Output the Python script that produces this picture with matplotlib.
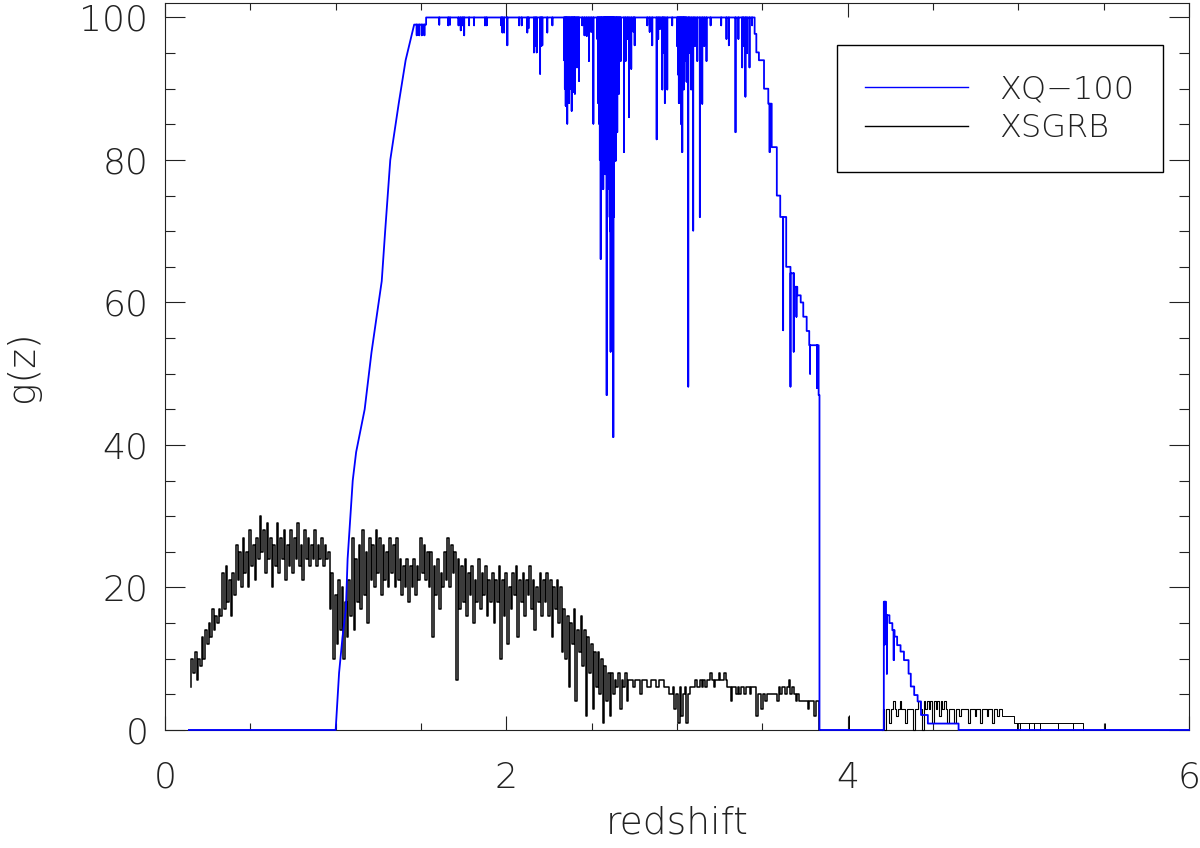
import numpy as np
import matplotlib
matplotlib.use('Agg')
import matplotlib.pyplot as plt
from matplotlib.ticker import MultipleLocator

# ---------------------------------------------------------------
# data
# ---------------------------------------------------------------

# XQ-100: steep rise (plain line), then a staircase with narrow dips
blue_rise_z = [0.14, 1.00, 1.02, 1.04, 1.06, 1.07, 1.10, 1.12, 1.17, 1.21,
               1.27, 1.29, 1.32, 1.37, 1.41, 1.43, 1.46]
blue_rise_g = [0, 0, 8, 13, 17, 24, 35, 39, 45, 53,
               63, 70, 80, 88, 94, 96, 99]

blue_step_z = [1.46, 1.53, 3.455, 3.465, 3.48, 3.51, 3.535, 3.555, 3.585,
               3.605, 3.64, 3.665, 3.685, 3.705, 3.725, 3.74, 3.76, 3.775,
               3.83, 3.835, 4.212, 4.225, 4.245, 4.262, 4.275, 4.29, 4.31,
               4.33, 4.357, 4.37, 4.39, 4.41, 4.43, 4.47, 4.65, 6.0]
blue_step_g = [99, 100, 97.7, 95.1, 94.0, 90.0, 87.9, 81.8, 75.0,
               72.0, 65.0, 64.1, 62.2, 61.0, 60, 58, 56, 54,
               47, 0, 18, 16.1, 15, 14, 13.1, 11.9, 11.0,
               9.8, 7.9, 6.1, 4.9, 4.0, 2.1, 0.9, 0, 0]

# narrow dips of the XQ-100 curve: position and the value they reach
blue_dip_z = [1.475, 1.49, 1.505, 1.52,
              1.607, 1.66, 1.67, 1.72, 1.733, 1.745, 1.753, 1.782, 1.811,
              1.875, 1.885, 1.97, 1.977, 1.987, 2.006, 2.075, 2.09, 2.123,
              2.13, 2.162, 2.17, 2.178, 2.198, 2.205, 2.211, 2.24, 2.27,
              2.338, 2.343, 2.348, 2.352, 2.357, 2.362, 2.367, 2.372, 2.378,
              2.383, 2.388, 2.393, 2.398, 2.402, 2.408, 2.414, 2.420, 2.426,
              2.445, 2.458, 2.471, 2.484, 2.497, 2.510,
              2.533, 2.538, 2.543, 2.548, 2.553, 2.558, 2.562, 2.568, 2.572,
              2.576, 2.580, 2.584, 2.588, 2.592, 2.596, 2.600, 2.603, 2.607,
              2.611, 2.615, 2.618, 2.621, 2.624, 2.627, 2.631, 2.635, 2.641,
              2.645, 2.650, 2.655, 2.660, 2.665, 2.670,
              2.689, 2.699, 2.710, 2.719, 2.732, 2.745, 2.752,
              2.826, 2.84, 2.855, 2.881, 2.89, 2.900, 2.914, 2.92, 2.929,
              2.943, 2.972,
              3.001, 3.006, 3.011, 3.016, 3.021, 3.026, 3.031, 3.036, 3.040,
              3.045, 3.050, 3.056, 3.066, 3.072, 3.083, 3.095, 3.105, 3.119,
              3.134, 3.148, 3.16, 3.173, 3.197,
              3.259, 3.29, 3.304, 3.343, 3.36, 3.382, 3.39, 3.401, 3.41,
              3.425, 3.440,
              3.543, 3.622, 3.665, 3.684, 3.70, 3.78, 3.82,
              4.218, 4.23, 4.27]
blue_dip_g = [97.5, 97.5, 97.5, 97.5,
              99.0, 98.9, 99, 98.9, 98.2, 98.9, 97.5, 98.9, 98.9,
              98.9, 98.9, 98.9, 97.9, 97.9, 96.1, 98.9, 98.9, 97.9,
              98.5, 95.1, 96, 95.1, 92.1, 96, 96.1, 97.9, 98.9,
              94, 90, 87.6, 92, 85.1, 89, 88, 93, 90,
              86.9, 95, 92, 89.5, 89.3, 96, 93, 97, 91.1,
              98.9, 97.5, 97.4, 93.9, 98, 85.1,
              97, 88, 85.1, 80, 66.1, 78, 79.9, 75.9, 82,
              85, 78, 88, 47.0, 72, 87, 76, 83, 70,
              53.1, 80, 74, 74.3, 66, 41.1, 72, 86, 79.9,
              90, 83.9, 93, 89.3, 95, 93.9,
              81.1, 93.9, 97, 86.0, 92.8, 98, 96.1,
              98.9, 98, 96.1, 82.9, 97, 98.4, 89.9, 95, 88,
              89.9, 98.9,
              96, 92, 88, 93, 88, 85, 81.1, 90, 89.9,
              94, 93.9, 91, 48.2, 95, 89.9, 70.1, 96, 93.9,
              72.0, 87.9, 96, 93.9, 98.9,
              98.9, 97, 96.1, 83.9, 97, 93, 96, 88.9, 95,
              93, 98.9,
              81.1, 56.1, 48.2, 53.1, 58, 50, 48,
              12, 7.9, 9.8]

# XSGRB, sampled every 0.01 in redshift from 0.15 to 3.84
black_g = [6, 10, 8, 11, 7, 10, 9, 13, 10, 14,
           12, 15, 13, 17, 14, 16, 15, 17, 16, 22,
           17, 23, 18, 21, 16, 22, 19, 26, 21, 25,
           20, 27, 22, 25, 20, 28, 23, 26, 21, 27,
           24, 30, 25, 28, 22, 29, 24, 27, 20, 26,
           23, 29, 22, 27, 24, 28, 21, 26, 23, 28,
           22, 27, 24, 29, 23, 26, 21, 28, 24, 27,
           23, 26, 24, 28, 23, 26, 24, 27, 23, 26,
           24, 25, 17, 22, 10, 19, 12, 21, 14, 20,
           10, 18, 13, 21, 16, 27, 14, 24, 18, 26,
           17, 28, 19, 25, 15, 27, 21, 26, 20, 28,
           22, 27, 19, 26, 21, 25, 20, 27, 22, 26,
           20, 27, 21, 24, 19, 23, 20, 24, 18, 23,
           20, 24, 19, 23, 21, 27, 22, 26, 21, 25,
           20, 25, 13, 23, 19, 24, 17, 22, 20, 25,
           21, 27, 20, 26, 22, 25, 7, 24, 17, 23,
           18, 24, 16, 22, 19, 23, 15, 21, 18, 24,
           17, 22, 19, 23, 16, 21, 18, 22, 15, 21,
           18, 23, 10, 21, 16, 22, 12, 20, 17, 22,
           19, 23, 13, 21, 18, 22, 16, 21, 19, 23,
           17, 21, 14, 20, 18, 22, 16, 21, 18, 22,
           16, 21, 13, 20, 17, 21, 15, 20, 11, 17,
           10, 16, 6, 15, 12, 17, 4, 14, 11, 16,
           9, 14, 2, 13, 8, 12, 3, 11, 6, 11,
           5, 10, 1, 9, 4, 8, 2, 8, 5, 7,
           6, 8, 3, 7, 6, 8, 4, 7, 7, 7,
           6, 7, 7, 7, 5, 7, 7, 7, 6, 6,
           7, 7, 7, 6, 6, 7, 7, 7, 6, 6,
           6, 5, 5, 6, 3, 5, 1, 6, 2, 5,
           6, 1, 5, 6, 6, 6, 7, 6, 6, 7,
           6, 7, 6, 7, 7, 8, 7, 6, 7, 7,
           8, 7, 7, 8, 7, 6, 6, 4, 6, 6,
           5, 6, 5, 6, 6, 5, 6, 6, 5, 6,
           6, 6, 2, 5, 5, 3, 5, 4, 5, 5,
           5, 5, 5, 5, 4, 6, 5, 6, 6, 5,
           6, 7, 5, 6, 5, 4, 5, 4, 4, 4,
           4, 4, 3, 4, 4, 4, 2, 4, 4, 0]

# XSGRB second patch, every 0.01 from 4.20 to 4.90
black_tail_g = [0, 3, 0, 3, 3, 1, 3, 4, 3, 2, 3,
                4, 3, 3, 1, 3, 3, 3, 3, 0, 3,
                3, 4, 3, 0, 4, 3, 4, 3, 4, 1,
                4, 3, 4, 2, 4, 3, 4, 3, 1, 3,
                3, 3, 1, 3, 3, 2, 3, 3, 3, 3,
                1, 3, 3, 3, 2, 3, 3, 1, 3, 3,
                3, 2, 3, 3, 1, 3, 3, 2, 3, 3]

# XSGRB low steps at the far end
black_step_z = [4.90, 4.905, 4.975, 5.38]
black_step_g = [3, 2, 1, 0]
black_dip_z = [4.99, 5.01, 5.06, 5.09, 5.13, 5.23, 5.32]
black_dip_g = [0, 0, 0, 0, 0, 0, 0]

# isolated single bins of XSGRB
black_bin_z = [4.006, 5.51]
black_bin_g = [2.1, 1.0]


def step_path(z_steps, g_steps, z_dips, g_dips):
    """Staircase through the step values with zero-width dips."""
    events = [(z, 0, g) for z, g in zip(z_steps, g_steps)]
    events += [(z, 1, g) for z, g in zip(z_dips, g_dips)]
    events.sort()
    xs, ys = [], []
    level = None
    for z, kind, g in events:
        if kind == 0:
            if level is not None:
                xs.append(z)
                ys.append(level)
            xs.append(z)
            ys.append(g)
            level = g
        else:
            xs += [z, z, z]
            ys += [level, g, level]
    return xs, ys


plt.rcParams['font.family'] = 'DejaVu Sans'
text_kw = dict(fontweight='ultralight', color='#222222')

fig = plt.figure(figsize=(12, 8.48), dpi=100)
ax = fig.add_axes([0.1375, 0.1392, 0.8533, 0.857])

# XSGRB
black_z = np.linspace(0.15, 3.84, len(black_g))
ax.plot(black_z, black_g, color='black', lw=1.1, drawstyle='steps-mid',
        zorder=3, clip_on=False, label='XSGRB')
tail_z = np.linspace(4.20, 4.90, len(black_tail_g))
ax.plot(tail_z, black_tail_g, color='black', lw=0.8, drawstyle='steps-mid',
        zorder=3, clip_on=False)
sx, sy = step_path(black_step_z, black_step_g, black_dip_z, black_dip_g)
ax.plot(sx, sy, color='black', lw=0.7, zorder=3, clip_on=False)
ax.vlines(black_bin_z, 0, black_bin_g, color='black', lw=0.7, zorder=3)

# XQ-100
bx, by = step_path(blue_step_z, blue_step_g, blue_dip_z, blue_dip_g)
bx = list(blue_rise_z) + bx
by = list(blue_rise_g) + by
ax.plot(bx, by, color='#0000ff', lw=1.3, zorder=4, clip_on=False,
        label='XQ\u2212100')

ax.set_xlim(0, 6)
ax.set_ylim(0, 102)
ax.set_xticks([0, 2, 4, 6])
ax.set_yticks([0, 20, 40, 60, 80, 100])
ax.xaxis.set_minor_locator(MultipleLocator(0.5))
ax.yaxis.set_minor_locator(MultipleLocator(5))
ax.tick_params(which='both', direction='in', top=True, right=True,
               color='#222222', width=0.8)
ax.tick_params(axis='x', which='major', length=10, pad=22)
ax.tick_params(axis='x', which='minor', length=5)
ax.tick_params(axis='y', which='major', length=14.4, pad=12)
ax.tick_params(axis='y', which='minor', length=7.2)
for lab in ax.get_xticklabels() + ax.get_yticklabels():
    lab.set_fontsize(26)
    lab.set_fontweight('ultralight')
    lab.set_color('#222222')
for sp in ax.spines.values():
    sp.set_color('#222222')
    sp.set_linewidth(0.8)

ax.set_xlabel('redshift', fontsize=27, labelpad=8, **text_kw)
ax.set_ylabel('g(z)', fontsize=27, labelpad=28, **text_kw)

handles, labels = ax.get_legend_handles_labels()
leg = ax.legend(handles[::-1], labels[::-1], loc='upper right',
                bbox_to_anchor=(0.975, 0.942), borderaxespad=0,
                handlelength=3.2, handletextpad=1.0,
                borderpad=0.9, labelspacing=0.28, fancybox=False,
                framealpha=1, edgecolor='black',
                prop={'size': 23, 'weight': 'ultralight'})
leg.get_frame().set_linewidth(1.0)
for t in leg.get_texts():
    t.set_color('#222222')
for h in leg.get_lines():
    h.set_linewidth(1.0)

fig.savefig('out.png', dpi=100)
